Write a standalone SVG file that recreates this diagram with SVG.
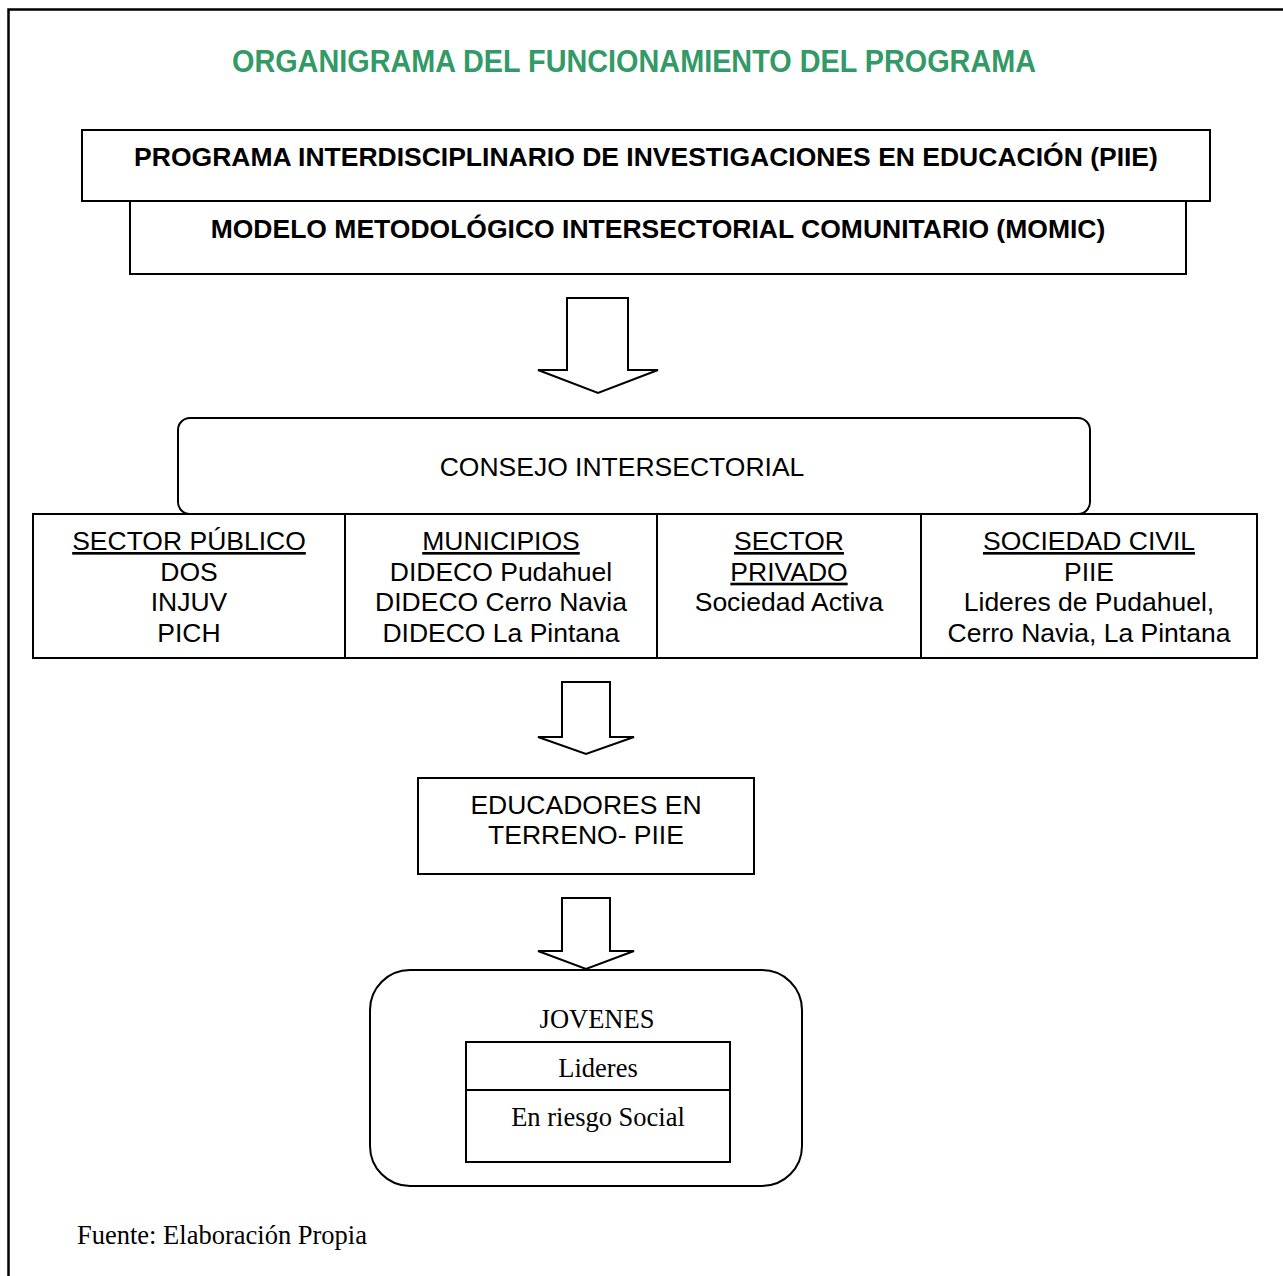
<svg xmlns="http://www.w3.org/2000/svg" width="1283" height="1276" viewBox="0 0 1283 1276">
<style>
.box{fill:#fff;stroke:#000;stroke-width:2}
.arrow{fill:#fff;stroke:#000;stroke-width:2;stroke-linejoin:miter}
.s{font-family:"Liberation Sans",Arial,sans-serif;font-size:26.5px;fill:#000;text-anchor:middle}
.b{font-weight:bold}
.u{text-decoration:underline}
.r{font-family:"Liberation Serif","Times New Roman",serif;font-size:26.5px;fill:#000;text-anchor:middle}
</style>
<rect x="0" y="0" width="1283" height="1276" fill="#fff"/>
<rect x="8.5" y="9.5" width="1290" height="1290" fill="none" stroke="#000" stroke-width="2.5"/>
<text x="634" y="72" font-family="'Liberation Sans',Arial,sans-serif" font-size="31" font-weight="bold" fill="#339966" text-anchor="middle" textLength="804" lengthAdjust="spacingAndGlyphs">ORGANIGRAMA DEL FUNCIONAMIENTO DEL PROGRAMA</text>
<g id="piie">
<rect class="box" x="82" y="130" width="1128" height="71"/>
<text class="s b" x="646" y="166">PROGRAMA INTERDISCIPLINARIO DE INVESTIGACIONES EN EDUCACIÓN (PIIE)</text>
</g>
<g id="momic">
<rect class="box" x="130" y="201" width="1056" height="73"/>
<text class="s b" x="658" y="238">MODELO METODOLÓGICO INTERSECTORIAL COMUNITARIO (MOMIC)</text>
</g>
<g id="connectors">
<path class="arrow" d="M567,298 H628 V370 H658 L598,393 L538,370 H567 Z"/>
<path class="arrow" d="M562,682 H610 V737 H634 L586,754 L538,737 H562 Z"/>
<path class="arrow" d="M562,898 H610 V951 H634 L586,969 L538,951 H562 Z"/>
</g>
<g id="consejo">
<rect class="box" x="178" y="418" width="912" height="96" rx="12"/>
<text class="s" x="622" y="476">CONSEJO INTERSECTORIAL</text>
</g>
<g id="sector-publico">
<rect class="box" x="33" y="514" width="312" height="144"/>
<text class="s" x="189" y="550"><tspan class="u">SECTOR PÚBLICO</tspan><tspan x="189" dy="30.7">DOS</tspan><tspan x="189" dy="30.7">INJUV</tspan><tspan x="189" dy="30.7">PICH</tspan></text>
</g>
<g id="municipios">
<rect class="box" x="345" y="514" width="312" height="144"/>
<text class="s" x="501" y="550"><tspan class="u">MUNICIPIOS</tspan><tspan x="501" dy="30.7">DIDECO Pudahuel</tspan><tspan x="501" dy="30.7">DIDECO Cerro Navia</tspan><tspan x="501" dy="30.7">DIDECO La Pintana</tspan></text>
</g>
<g id="sector-privado">
<rect class="box" x="657" y="514" width="264" height="144"/>
<text class="s" x="789" y="550"><tspan class="u">SECTOR</tspan><tspan x="789" dy="30.7" class="u">PRIVADO</tspan><tspan x="789" dy="30.7">Sociedad Activa</tspan></text>
</g>
<g id="sociedad-civil">
<rect class="box" x="921" y="514" width="336" height="144"/>
<text class="s" x="1089" y="550"><tspan class="u">SOCIEDAD CIVIL</tspan><tspan x="1089" dy="30.7">PIIE</tspan><tspan x="1089" dy="30.7">Lideres de Pudahuel,</tspan><tspan x="1089" dy="30.7">Cerro Navia, La Pintana</tspan></text>
</g>
<g id="educadores">
<rect class="box" x="418" y="778" width="336" height="96"/>
<text class="s" x="586" y="814">EDUCADORES EN<tspan x="586" dy="30">TERRENO- PIIE</tspan></text>
</g>
<g id="jovenes">
<rect class="box" x="370" y="970" width="432" height="216" rx="40"/>
<text class="r" x="597" y="1028">JOVENES</text>
<rect class="box" x="466" y="1042" width="264" height="120"/>
<line x1="466" y1="1090" x2="730" y2="1090" stroke="#000" stroke-width="2"/>
<text class="r" x="598" y="1077">Lideres</text>
<text class="r" x="598" y="1126">En riesgo Social</text>
</g>
<text x="77" y="1244" font-family="'Liberation Serif','Times New Roman',serif" font-size="26.5" fill="#000">Fuente: Elaboración Propia</text>
</svg>
